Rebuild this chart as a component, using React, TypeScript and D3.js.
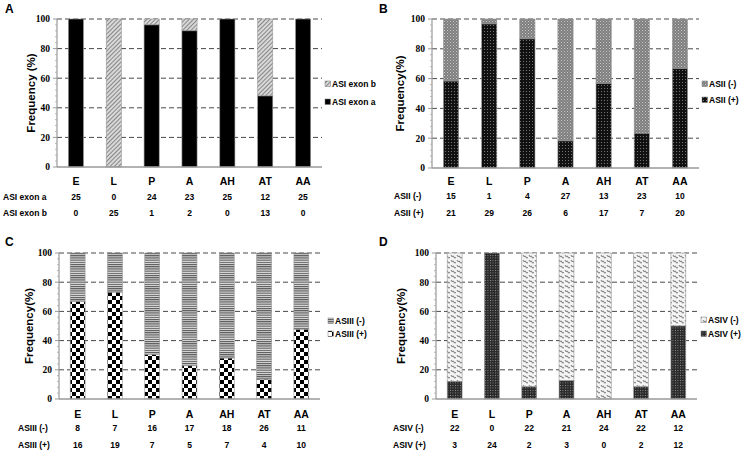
import React from 'react';
import * as d3 from 'd3';

const categories = ['E', 'L', 'P', 'A', 'AH', 'AT', 'AA'];

const asiExonA = [25, 0, 24, 23, 25, 12, 25];
const asiExonB = [0, 25, 1, 2, 0, 13, 0];

const asiiNeg = [15, 1, 4, 27, 13, 23, 10];
const asiiPos = [21, 29, 26, 6, 17, 7, 20];

const asiiiNeg = [8, 7, 16, 17, 18, 26, 11];
const asiiiPos = [16, 19, 7, 5, 7, 4, 10];

const asivNeg = [22, 0, 22, 21, 24, 22, 12];
const asivPos = [3, 24, 2, 3, 0, 2, 12];

const yTicks = [0, 20, 40, 60, 80, 100];

const SANS = 'Arial, "Liberation Sans", Helvetica, sans-serif';
const SERIF = '"Times New Roman", "Liberation Serif", serif';

type PanelCfg = {
  letter: string;
  lx: number; ly: number;
  x0: number; x1: number; yTop: number; yBot: number;
  titleX: number; title: string;
  rowLabelX: number;
  catY: number; row1Y: number; row2Y: number;
  legX: number; legY1: number; legY2: number;
  bottomVals: number[]; topVals: number[];
  bottomFill: string; topFill: string;
  row1Name: string; row1Vals: number[];
  row2Name: string; row2Vals: number[];
  legTopName: string; legBottomName: string;
};

const panels: PanelCfg[] = [
  {
    letter: 'A', lx: 5, ly: 13,
    x0: 57, x1: 322, yTop: 19, yBot: 167,
    titleX: 35, title: 'Frequency (%)',
    rowLabelX: 3, catY: 185, row1Y: 200, row2Y: 216,
    legX: 325, legY1: 84, legY2: 102,
    bottomVals: asiExonA, topVals: asiExonB,
    bottomFill: 'url(#pSolid)', topFill: 'url(#pDiag)',
    row1Name: 'ASI exon a', row1Vals: asiExonA,
    row2Name: 'ASI exon b', row2Vals: asiExonB,
    legTopName: 'ASI exon b', legBottomName: 'ASI exon a',
  },
  {
    letter: 'B', lx: 379, ly: 13,
    x0: 432, x1: 699, yTop: 19, yBot: 168,
    titleX: 404, title: 'Frequency(%)',
    rowLabelX: 394, catY: 185, row1Y: 199, row2Y: 216,
    legX: 702, legY1: 84, legY2: 100,
    bottomVals: asiiPos, topVals: asiiNeg,
    bottomFill: 'url(#pBlackDots)', topFill: 'url(#pGrayDots)',
    row1Name: 'ASII (-)', row1Vals: asiiNeg,
    row2Name: 'ASII (+)', row2Vals: asiiPos,
    legTopName: 'ASII (-)', legBottomName: 'ASII (+)',
  },
  {
    letter: 'C', lx: 5, ly: 246,
    x0: 59, x1: 320, yTop: 253, yBot: 399,
    titleX: 33, title: 'Frequency(%)',
    rowLabelX: 18, catY: 418, row1Y: 431, row2Y: 448,
    legX: 328, legY1: 321, legY2: 334,
    bottomVals: asiiiPos, topVals: asiiiNeg,
    bottomFill: 'url(#pChecker)', topFill: 'url(#pHStripe)',
    row1Name: 'ASIII (-)', row1Vals: asiiiNeg,
    row2Name: 'ASIII (+)', row2Vals: asiiiPos,
    legTopName: 'ASIII (-)', legBottomName: 'ASIII (+)',
  },
  {
    letter: 'D', lx: 379, ly: 246,
    x0: 436, x1: 697, yTop: 253, yBot: 399,
    titleX: 405, title: 'Frequency(%)',
    rowLabelX: 393, catY: 418, row1Y: 431, row2Y: 448,
    legX: 701, legY1: 320, legY2: 334,
    bottomVals: asivPos, topVals: asivNeg,
    bottomFill: 'url(#pCross)', topFill: 'url(#pWave)',
    row1Name: 'ASIV (-)', row1Vals: asivNeg,
    row2Name: 'ASIV (+)', row2Vals: asivPos,
    legTopName: 'ASIV (-)', legBottomName: 'ASIV (+)',
  },
];

function Panel({ c }: { c: PanelCfg }) {
  const x = d3.scaleBand<string>().domain(categories).range([c.x0, c.x1]).paddingInner(0.6).paddingOuter(0.3);
  const y = d3.scaleLinear().domain([0, 100]).range([c.yBot, c.yTop]);
  const minor = d3.range(0, 101, 4).filter((v) => v % 20 !== 0);
  const rows = categories.map((cat, i) => {
    const b = c.bottomVals[i];
    const t = c.topVals[i];
    const tot = b + t;
    const bp = tot ? (b / tot) * 100 : 0;
    return { cat, bp };
  });
  const cx = (cat: string) => (x(cat) as number) + x.bandwidth() / 2;
  return (
    <g>
      <text x={c.lx} y={c.ly} fontFamily={SANS} fontWeight="bold" fontSize={12}>{c.letter}</text>
      {yTicks.filter((t) => t > 0).map((t) => (
        <line key={t} x1={c.x0} x2={c.x1} y1={y(t)} y2={y(t)} stroke="#333" strokeWidth={0.9} strokeDasharray="5,3" />
      ))}
      {rows.map((r) => (
        <g key={r.cat}>
          {r.bp < 100 && (
            <rect x={x(r.cat)} width={x.bandwidth()} y={y(100)} height={y(r.bp) - y(100)} fill={c.topFill} stroke="#999" strokeWidth={0.6} />
          )}
          {r.bp > 0 && (
            <rect x={x(r.cat)} width={x.bandwidth()} y={y(r.bp)} height={y(0) - y(r.bp)} fill={c.bottomFill} stroke="#999" strokeWidth={0.6} />
          )}
        </g>
      ))}
      <line x1={c.x0} x2={c.x0} y1={c.yTop} y2={c.yBot} stroke="#999" strokeWidth={1.2} />
      <line x1={c.x0} x2={c.x1} y1={c.yBot} y2={c.yBot} stroke="#999" strokeWidth={1.5} />
      {yTicks.map((t) => (
        <g key={t}>
          <line x1={c.x0 - 4} x2={c.x0} y1={y(t)} y2={y(t)} stroke="#999" strokeWidth={1} />
          <text x={c.x0 - 7} y={y(t) + 3.3} textAnchor="end" fontFamily={SERIF} fontWeight="bold" fontSize={9.5}>{t}</text>
        </g>
      ))}
      {minor.map((t) => (
        <line key={t} x1={c.x0 - 2} x2={c.x0} y1={y(t)} y2={y(t)} stroke="#aaa" strokeWidth={0.8} />
      ))}
      <text transform={`translate(${c.titleX},${(c.yTop + c.yBot) / 2}) rotate(-90)`} textAnchor="middle" fontFamily={SANS} fontWeight="bold" fontSize={11.5}>{c.title}</text>
      {categories.map((cat, i) => (
        <g key={cat}>
          <text x={cx(cat)} y={c.catY} textAnchor="middle" fontFamily={SANS} fontWeight="bold" fontSize={10.5}>{cat}</text>
          <text x={cx(cat)} y={c.row1Y} textAnchor="middle" fontFamily={SANS} fontWeight="bold" fontSize={8.5}>{c.row1Vals[i]}</text>
          <text x={cx(cat)} y={c.row2Y} textAnchor="middle" fontFamily={SANS} fontWeight="bold" fontSize={8.5}>{c.row2Vals[i]}</text>
        </g>
      ))}
      <text x={c.rowLabelX} y={c.row1Y} fontFamily={SANS} fontWeight="bold" fontSize={8.5}>{c.row1Name}</text>
      <text x={c.rowLabelX} y={c.row2Y} fontFamily={SANS} fontWeight="bold" fontSize={8.5}>{c.row2Name}</text>
      <rect x={c.legX} y={c.legY1 - 3} width={5.5} height={5.5} fill={c.topFill} stroke="#777" strokeWidth={0.5} />
      <text x={c.legX + 7} y={c.legY1 + 3} fontFamily={SANS} fontWeight="bold" fontSize={8.5}>{c.legTopName}</text>
      <rect x={c.legX} y={c.legY2 - 3} width={5.5} height={5.5} fill={c.bottomFill} stroke="#777" strokeWidth={0.5} />
      <text x={c.legX + 7} y={c.legY2 + 3} fontFamily={SANS} fontWeight="bold" fontSize={8.5}>{c.legBottomName}</text>
    </g>
  );
}

export default function App() {
  return (
    <svg width={748} height={453} style={{ position: 'absolute', left: 0, top: 0, background: '#fff' }}>
      <defs>
        <pattern id="pSolid" width={4} height={4} patternUnits="userSpaceOnUse">
          <rect width={4} height={4} fill="#000" />
        </pattern>
        <pattern id="pDiag" width={3} height={3} patternUnits="userSpaceOnUse" patternTransform="rotate(45)">
          <rect width={3} height={3} fill="#d8d8d8" />
          <line x1={0} y1={0} x2={0} y2={3} stroke="#444" strokeWidth={1.1} />
        </pattern>
        <pattern id="pBlackDots" width={3} height={3} patternUnits="userSpaceOnUse">
          <rect width={3} height={3} fill="#111" />
          <rect x={1} y={1} width={0.8} height={0.8} fill="#aaa" />
        </pattern>
        <pattern id="pGrayDots" width={3} height={3} patternUnits="userSpaceOnUse">
          <rect width={3} height={3} fill="#7f7f7f" />
          <rect x={0} y={0} width={1} height={1} fill="#c8c8c8" />
          <rect x={1.5} y={1.5} width={1} height={1} fill="#b0b0b0" />
        </pattern>
        <pattern id="pChecker" width={8} height={8} patternUnits="userSpaceOnUse">
          <rect width={8} height={8} fill="#fff" />
          <rect x={0} y={0} width={4} height={4} fill="#000" />
          <rect x={4} y={4} width={4} height={4} fill="#000" />
        </pattern>
        <pattern id="pHStripe" width={4} height={2.2} patternUnits="userSpaceOnUse">
          <rect width={4} height={2.2} fill="#e0e0e0" />
          <rect x={0} y={0} width={4} height={1.1} fill="#555" />
        </pattern>
        <pattern id="pCross" width={2.5} height={2.5} patternUnits="userSpaceOnUse">
          <rect width={2.5} height={2.5} fill="#2a2a2a" />
          <rect x={0} y={0} width={0.9} height={0.9} fill="#999" />
        </pattern>
        <pattern id="pWave" width={6} height={5} patternUnits="userSpaceOnUse">
          <rect width={6} height={5} fill="#f4f4f4" />
          <path d="M0,0.5 L1.5,2 L3,1 L4.5,2.5 L6,1.5" fill="none" stroke="#666" strokeWidth={0.8} transform="rotate(20 3 2.5)" />
        </pattern>
      </defs>
      {panels.map((p) => (
        <Panel key={p.letter} c={p} />
      ))}
    </svg>
  );
}
